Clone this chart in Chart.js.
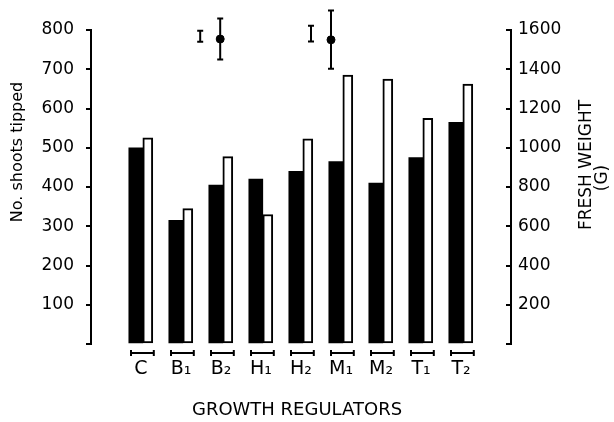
<!DOCTYPE html>
<html>
<head>
<meta charset="utf-8">
<script src="https://cdn.jsdelivr.net/npm/chart.js@4.4.1/dist/chart.umd.min.js"></script>
<style>
    html, body { margin: 0; padding: 0; background: #fff; }
    #wrap { width: 614px; height: 422px; }
</style>
</head>
<body>
<div id="wrap"><canvas id="growthChart"></canvas></div>
<script>
// 生長調節剤ごとのデータ
const categories = ['C', 'B₁', 'B₂', 'H₁', 'H₂', 'M₁', 'M₂', 'T₁', 'T₂'];
const shootsTipped = [500, 315, 405, 420, 440, 465, 410, 475, 565];
const freshWeight = [1050, 690, 955, 660, 1045, 1370, 1350, 1150, 1325];

// 上部のエラーバー (左軸の値)
const errX = [1.48, 1.98, 4.25, 4.75];
const errMid = [784, 777, 791, 775];
const errLow = [770, 725, 771, 701];
const errHigh = [798, 829, 811, 850];
const errDot = [false, true, false, true];

const FONT = 'DejaVu Sans';

const marksPlugin = {
    id: 'marks',
    afterDatasetsDraw(chart) {
        const c = chart.ctx;
        const x = chart.scales.x;
        const y = chart.scales.y;
        c.save();
        c.strokeStyle = '#000';
        c.lineWidth = 2;

        // エラーバー
        errX.forEach((v, i) => {
            const px = x.getPixelForValue(v);
            const top = y.getPixelForValue(errHigh[i]);
            const bot = y.getPixelForValue(errLow[i]);
            c.beginPath();
            c.moveTo(px, top); c.lineTo(px, bot);
            c.moveTo(px - 3, top); c.lineTo(px + 3, top);
            c.moveTo(px - 3, bot); c.lineTo(px + 3, bot);
            c.stroke();
        });

        // 各カテゴリの下の括弧
        const by = y.getPixelForValue(0) + 9;
        categories.forEach((_, i) => {
            const l = x.getPixelForValue(i - 0.25);
            const r = x.getPixelForValue(i + 0.32);
            c.beginPath();
            c.moveTo(l, by); c.lineTo(r, by);
            c.moveTo(l, by - 3); c.lineTo(l, by + 3);
            c.moveTo(r, by - 3); c.lineTo(r, by + 3);
            c.stroke();
        });

        // 軸タイトル
        c.fillStyle = '#000';
        c.textAlign = 'center';
        c.textBaseline = 'middle';
        c.font = '16px "' + FONT + '"';
        c.save();
        c.translate(18, 152);
        c.rotate(-Math.PI / 2);
        c.fillText('No. shoots tipped', 0, 0);
        c.restore();

        c.font = '17px "' + FONT + '"';
        c.save();
        c.translate(587, 165);
        c.rotate(-Math.PI / 2);
        c.fillText('FRESH WEIGHT', 0, 0);
        c.restore();
        c.save();
        c.translate(603, 178);
        c.rotate(-Math.PI / 2);
        c.fillText('(G)', 0, 0);
        c.restore();

        c.font = '18px "' + FONT + '"';
        c.fillText('GROWTH REGULATORS', 297, 410);
        c.restore();
    }
};

const ctx = document.getElementById('growthChart').getContext('2d');
new Chart(ctx, {
    type: 'bar',
    data: {
        datasets: [
            {
                label: 'No. shoots tipped',
                data: shootsTipped.map((v, i) => ({ x: i - 0.13, y: v })),
                yAxisID: 'y',
                backgroundColor: '#000',
                barThickness: 14,
                grouped: false
            },
            {
                label: 'Fresh weight',
                data: freshWeight.map((v, i) => ({ x: i + 0.17, y: v })),
                yAxisID: 'y2',
                backgroundColor: '#fff',
                borderColor: '#000',
                borderWidth: 2,
                borderSkipped: false,
                barThickness: 10,
                grouped: false
            },
            {
                type: 'scatter',
                label: 'mean',
                data: errX.map((v, i) => (errDot[i] ? { x: v, y: errMid[i] } : null)).filter(Boolean),
                yAxisID: 'y',
                pointRadius: 4,
                backgroundColor: '#000',
                borderColor: '#000'
            }
        ]
    },
    options: {
        responsive: true,
        maintainAspectRatio: false,
        animation: false,
        layout: { padding: { top: 30, left: 0, right: 0, bottom: 0 } },
        plugins: {
            legend: { display: false },
            tooltip: { enabled: false }
        },
        scales: {
            x: {
                type: 'linear',
                min: -1.25,
                max: 9.25,
                offset: false,
                grid: { display: false, offset: false },
                border: { display: false },
                afterBuildTicks: axis => {
                    axis.ticks = categories.map((c, i) => ({ value: i }));
                },
                ticks: {
                    callback: v => categories[v],
                    color: '#000',
                    font: { family: FONT, size: 19 },
                    padding: 6,
                    maxRotation: 0,
                    autoSkip: false
                },
                afterFit: s => { s.height = 78; }
            },
            y: {
                position: 'left',
                min: 0,
                max: 800,
                ticks: {
                    stepSize: 100,
                    callback: v => (v === 0 ? '' : v),
                    color: '#000',
                    font: { family: FONT, size: 17 },
                    padding: 12
                },
                grid: { drawOnChartArea: false, color: '#000', lineWidth: 2, tickLength: 5 },
                border: { color: '#000', width: 2 },
                afterFit: s => { s.width = 91; }
            },
            y2: {
                position: 'right',
                min: 0,
                max: 1600,
                ticks: {
                    stepSize: 200,
                    callback: v => (v === 0 ? '' : v),
                    color: '#000',
                    font: { family: FONT, size: 17 },
                    padding: 12
                },
                grid: { drawOnChartArea: false, color: '#000', lineWidth: 2, tickLength: -5 },
                border: { color: '#000', width: 2 },
                afterFit: s => { s.width = 103; }
            }
        }
    },
    plugins: [marksPlugin]
});
</script>
</body>
</html>
